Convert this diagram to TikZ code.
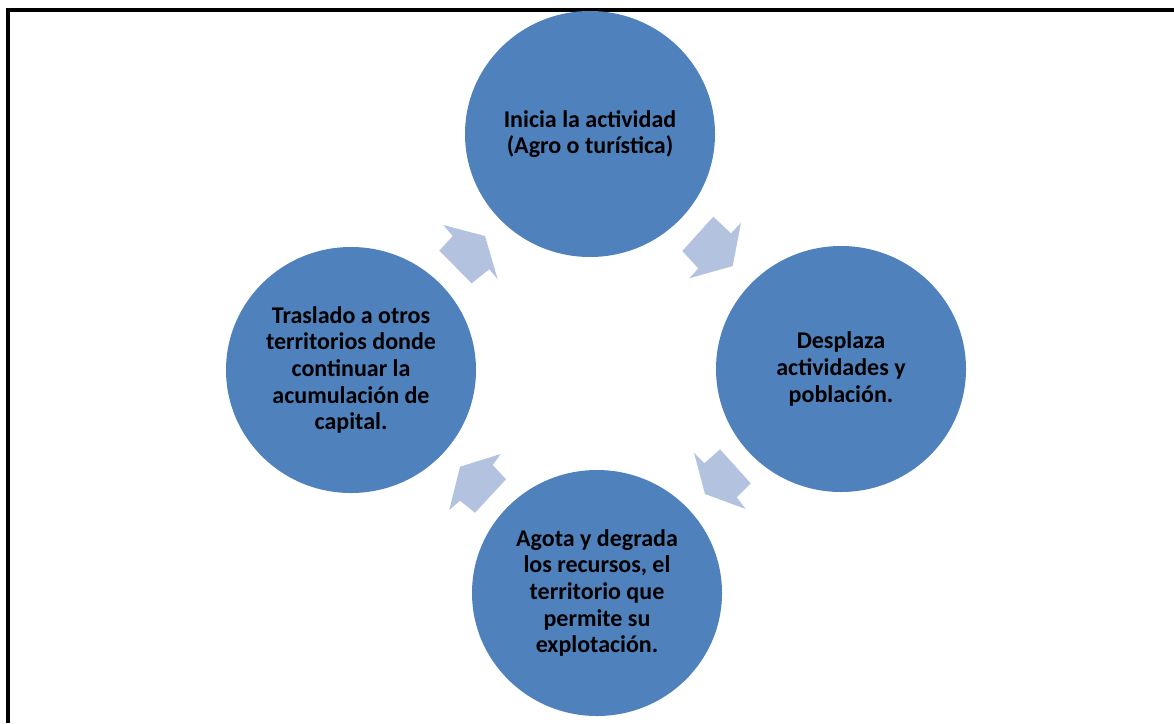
\documentclass[tikz,border=0pt]{standalone}
\usepackage{fontspec}
\setmainfont{Carlito}
\usetikzlibrary{shapes.geometric}
\definecolor{circblue}{RGB}{79,129,189}
\definecolor{arrblue}{RGB}{179,195,223}
\begin{document}
\begin{tikzpicture}[x=1pt,y=-1pt,
  cyc/.style={ellipse,fill=circblue,minimum width=250pt,minimum height=246pt,inner sep=0pt,
    align=center,font=\fontsize{24}{26.7}\selectfont\bfseries,text=black},
  cycarrow/.style={fill=arrblue,draw=none}]
\useasboundingbox (0,0) rectangle (1174,723);
\fill[white] (0,0) rectangle (1174,723);
\draw[line width=3.5pt] (8,723) -- (8,10) -- (1174,10);
\node[cyc] (top) at (590,134) {Inicia la actividad\\(Agro o turística)};
\node[cyc] (right) at (841,369) {Desplaza\\actividades y\\población.};
\node[cyc] (bottom) at (597,593) {Agota y degrada\\los recursos, el\\territorio que\\permite su\\explotación.};
\node[cyc] (left) at (351,370) {Traslado a otros\\territorios donde\\continuar la\\acumulación de\\capital.};
% arrow left -> top
\fill[cycarrow] (443.3,225) -- (485,236) -- (497.7,279.3) -- (489.3,269.3) -- (471.7,283.3) -- (439.3,250.7) -- (452.7,236) -- cycle;
% arrow top -> right
\fill[cycarrow] (713.3,216.7) -- (731,233.3) -- (741,222.7) -- (732.7,266) -- (689.3,278.3) -- (698.3,268.3) -- (682.3,251) -- cycle;
% arrow right -> bottom
\fill[cycarrow] (694,452.7) -- (704.3,463.3) -- (720,449.3) -- (750.7,483.3) -- (736.7,497.3) -- (745.7,509) -- (705,494) -- cycle;
% arrow bottom -> left
\fill[cycarrow] (449.3,510) -- (460,466.7) -- (500.7,454) -- (492.7,465) -- (506,479.3) -- (475,512.7) -- (460,500.7) -- cycle;
\end{tikzpicture}
\end{document}
